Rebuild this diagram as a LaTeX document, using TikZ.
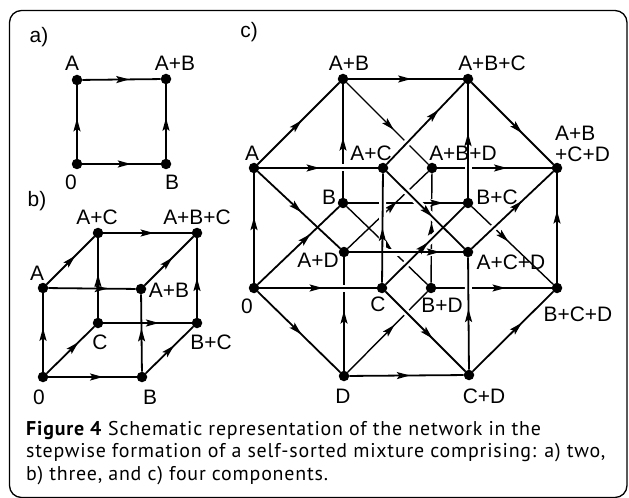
\documentclass[tikz,border=0pt]{standalone}
\usepackage{fontspec}
\usetikzlibrary{arrows.meta,decorations.markings}
\newfontfamily\labfont{Liberation Sans}
\newfontfamily\capfont[LetterSpace=4]{PT Sans}
\begin{document}
\begin{tikzpicture}[x=1bp,y=-1bp,
  dot/.style={circle,fill=black,inner sep=0pt,minimum size=10.5bp},
  lbl/.style={font=\labfont\fontsize{21}{24}\selectfont,inner sep=0pt},
  captext/.style={font=\capfont\fontsize{20}{22}\selectfont,inner sep=0pt,anchor=base west},
  fe/.style={line width=1.8bp},
  be/.style={line width=1.4bp},
  halo/.style={draw=white,line width=7bp,shorten <=10bp,shorten >=10bp},
  mid/.style={decoration={markings,mark=at position #1 with {\arrow{Stealth[length=13bp,width=7bp,inset=2.5bp]}}},postaction={decorate}},
]
\useasboundingbox (0,0) rectangle (629,498);
\fill[white] (0,0) rectangle (629,498);
\draw[line width=1.3bp,rounded corners=12bp] (9.5,10.5) rectangle (627,497.5);

% ---- panel a
\node[dot] (a0) at (77,164) {};
\node[dot] (aA) at (77,80) {};
\node[dot] (aB) at (166,164) {};
\node[dot] (aAB) at (166,79) {};
\foreach \s/\t/\p in {a0/aA/0.55,a0/aB/0.62,aA/aAB/0.6,aB/aAB/0.55}
  \draw[fe,mid=\p] (\s) -- (\t);

% ---- panel b
\node[dot] (b0) at (43,377) {};
\node[dot] (bA) at (43,288) {};
\node[dot] (bB) at (142,377) {};
\node[dot] (bC) at (98,323) {};
\node[dot] (bAB) at (141,289) {};
\node[dot] (bAC) at (98,233) {};
\node[dot] (bBC) at (197,323) {};
\node[dot] (bABC) at (197,233) {};
\foreach \s/\t/\p in {b0/bA/0.56,b0/bB/0.62,b0/bC/0.67,bA/bAB/0.68,bA/bAC/0.6,bB/bAB/0.56,bB/bBC/0.6,
  bC/bAC/0.55,bC/bBC/0.63,bAC/bABC/0.57,bAB/bABC/0.57,bBC/bABC/0.5}
  \draw[fe,mid=\p] (\s) -- (\t);

% ---- panel c
\node[dot] (c0) at (254,288) {};
\node[dot] (cA) at (254,168) {};
\node[dot] (cB) at (343,203) {};
\node[dot] (cC) at (382,288) {};
\node[dot] (cD) at (344,376) {};
\node[dot] (cAB) at (343,79) {};
\node[dot] (cAC) at (383,168) {};
\node[dot] (cAD) at (344,252) {};
\node[dot] (cBC) at (468,203) {};
\node[dot] (cBD) at (431,288) {};
\node[dot] (cCD) at (469,375) {};
\node[dot] (cABC) at (468,79) {};
\node[dot] (cABD) at (432,168) {};
\node[dot] (cACD) at (468,252) {};
\node[dot] (cBCD) at (557,288) {};
\node[dot] (cABCD) at (557,168) {};

% back edges
\draw[be,mid=0.55] (cBD) -- (cABD);
\draw[halo] (cB) -- (cBC);
\foreach \s/\t/\p in {cB/cAB/0.53,cB/cBC/0.83,cB/cBD/0.57,cD/cAD/0.53,cD/cBD/0.59,cAB/cABD/0.58,
  cAD/cABD/0.61,cBC/cBCD/0.45,cBD/cBCD/0.6,cABD/cABCD/0.61}
  \draw[be,mid=\p] (\s) -- (\t);

% front edges
\def\frontlist{c0/cA/0.6,c0/cB/0.65,c0/cC/0.54,c0/cD/0.53,cA/cAB/0.54,cA/cAC/0.51,cA/cAD/0.53,
  cC/cAC/0.5,cC/cBC/0.54,cC/cCD/0.59,cD/cCD/0.53,cAB/cABC/0.55,cAC/cABC/0.67,cAC/cACD/0.59,
  cAD/cACD/0.8,cBC/cABC/0.57,cCD/cACD/0.54,cCD/cBCD/0.61,cABC/cABCD/0.62,cACD/cABCD/0.62,cBCD/cABCD/0.66}
\foreach \s/\t/\p in \frontlist \draw[halo] (\s) -- (\t);
\foreach \s/\t/\p in \frontlist \draw[fe,mid=\p] (\s) -- (\t);

% ---- labels
\node[lbl] (la) at (39,37.5) {a)};
\node[lbl] (laA) at (72,63) {A};
\node[lbl] (laAB) at (175,63) {A+B};
\node[lbl] (la0) at (71,182) {0};
\node[lbl] (laB) at (172,182) {B};

\node[lbl] (lb) at (37,201) {b)};
\node[lbl] (lbAC) at (97,217) {A+C};
\node[lbl] (lbABC) at (197,217) {A+B+C};
\node[lbl] (lbA) at (37,273) {A};
\node[lbl] (lbAB) at (169,290) {A+B};
\node[lbl] (lbC) at (100,342) {C};
\node[lbl] (lbBC) at (211,342) {B+C};
\node[lbl] (lb0) at (39,397) {0};
\node[lbl] (lbB) at (150,397) {B};

\node[lbl] (lc) at (249,32) {c)};
\node[lbl] (lcAB) at (349,63) {A+B};
\node[lbl] (lcABC) at (492,63) {A+B+C};
\node[lbl] (lcA) at (252,153) {A};
\node[lbl] (lcAC) at (371,153) {A+C};
\node[lbl] (lcABD) at (463,153) {A+B+D};
\node[lbl,anchor=west] (lcABCDa) at (555,133) {A+B};
\node[lbl,anchor=west] (lcABCDb) at (555,154.5) {+C+D};
\node[lbl] (lcB) at (329,197) {B};
\node[lbl] (lcBC) at (497,197) {B+C};
\node[lbl] (lcAD) at (318,260) {A+D};
\node[lbl] (lcACD) at (511,262) {A+C+D};
\node[lbl] (lc0) at (247,306) {0};
\node[lbl] (lcC) at (378,304) {C};
\node[lbl] (lcBD) at (442,305) {B+D};
\node[lbl] (lcBCD) at (578,314) {B+C+D};
\node[lbl] (lcD) at (343,396) {D};
\node[lbl] (lcCD) at (484,396) {C+D};

% ---- caption
\node[captext] (cap1) at (26,435) {\textbf{Figure 4} Schematic representation of the network in the};
\node[captext] (cap2) at (26,457.5) {stepwise formation of a self-sorted mixture comprising: a) two,};
\node[captext] (cap3) at (26,480) {b) three, and c) four components.};
\end{tikzpicture}
\end{document}
